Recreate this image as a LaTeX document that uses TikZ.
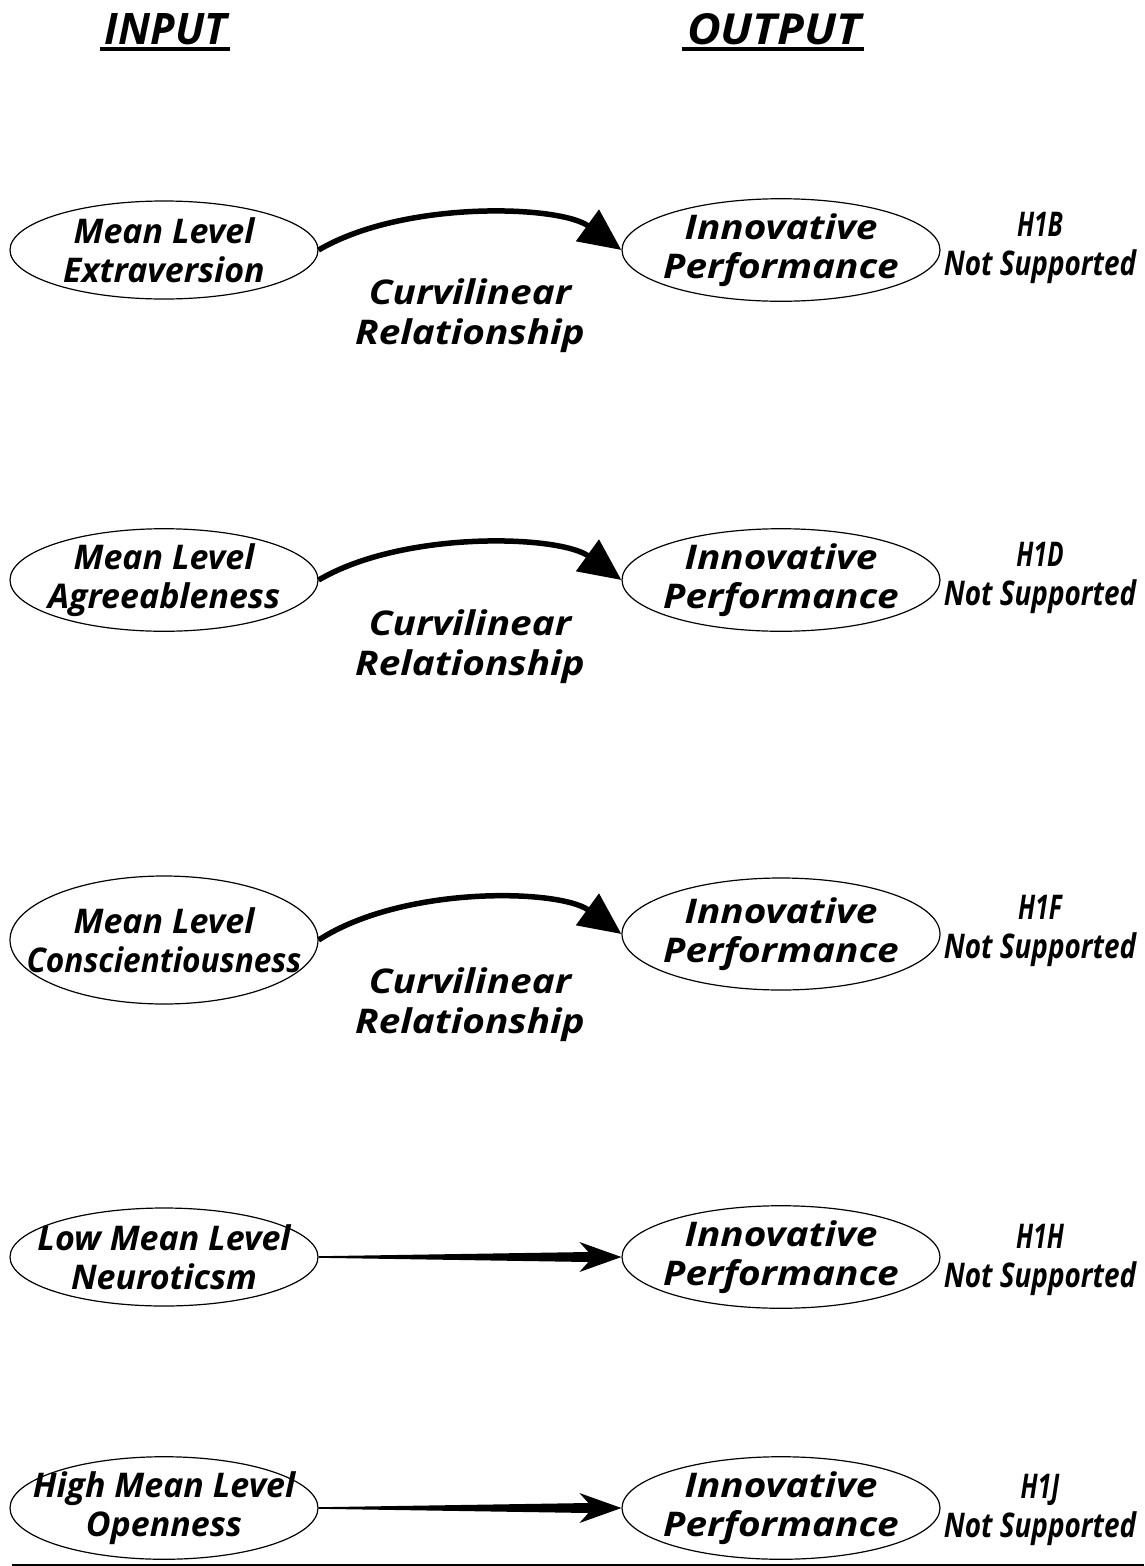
\documentclass[tikz,border=0pt]{standalone}
\usepackage{fontspec}
\setmainfont{Open Sans}
\newfontfamily\widefont{Open Sans}[FakeStretch=1.14]
\newfontfamily\snugfont{Open Sans}[FakeStretch=0.93]
\newfontfamily\narrowfont{Open Sans}[FakeStretch=0.82]
\newfontfamily\tightfont{Open Sans}[FakeStretch=0.72]
\usetikzlibrary{shapes.geometric,arrows.meta,calc}

% tapered straight arrow between two named nodes
\newcommand{\taperarrow}[2]{%
  \fill ($(#1.east)+(0,-0.8)$) -- ($(#2.west)+(-33,-5)$) -- ($(#2.west)+(-42,-15)$)
     -- (#2.west) -- ($(#2.west)+(-42,15)$) -- ($(#2.west)+(-33,5)$)
     -- ($(#1.east)+(0,0.8)$) -- cycle;}
% hypothesis label: name, then verdict
\newcommand{\hyp}[1]{{\tightfont #1}\\{\narrowfont Not Supported}}

\begin{document}
\begin{tikzpicture}[x=1pt,y=-1pt,
  txt/.style={font=\fontsize{34}{38.5}\selectfont\bfseries\itshape, align=center, inner sep=0pt},
  oval/.style={txt, draw, ellipse, line width=1.2pt, inner xsep=-60pt, inner ysep=0pt,
     minimum width=308pt, minimum height=98pt},
  outoval/.style={oval, minimum width=318pt, font=\fontsize{34}{38.5}\selectfont\bfseries\itshape\widefont},
  rel/.style={line width=5.5pt, -{Triangle[length=42pt,width=38pt]}},
  curv/.style={txt, font=\fontsize{34}{40}\selectfont\bfseries\itshape\widefont},
  head/.style={inner sep=0pt}]
\useasboundingbox (0,0) rectangle (1144,1566);

% column headings
\node[head] (in) at (166,29) {\resizebox{122pt}{31pt}{\bfseries\itshape INPUT}};
\node[head] (out) at (774,29) {\resizebox{174pt}{31pt}{\bfseries\itshape OUTPUT}};
\draw[line width=3.5pt] ($(in.south west)+(-5,4)$) -- ($(in.south east)+(3,4)$);
\draw[line width=3.5pt] ($(out.south west)+(-5,4)$) -- ($(out.south east)+(3,4)$);

% row 1
\node[oval] (L1) at (164,250) {Mean Level\\Extraversion};
\node[outoval] (R1) at (781,250) {Innovative\\Performance};
\node[txt] (H1) at (1040,248) {\hyp{H1B}};
\draw[rel] (L1.east) .. controls +(85,-50) and +(-62,-45) .. (R1.west);
\node[curv] (C1) at (470,316) {Curvilinear\\Relationship};

% row 2
\node[oval] (L2) at (164,580) {Mean Level\\Agreeableness};
\node[outoval] (R2) at (781,580) {Innovative\\Performance};
\node[txt] (H2) at (1040,578) {\hyp{H1D}};
\draw[rel] (L2.east) .. controls +(85,-50) and +(-62,-45) .. (R2.west);
\node[curv] (C2) at (470,647) {Curvilinear\\Relationship};

% row 3
\node[oval, minimum height=128pt] (L3) at (164,940) {Mean Level\\{\snugfont Conscientiousness}};
\node[outoval, minimum height=112pt] (R3) at (781,934) {Innovative\\Performance};
\node[txt] (H3) at (1040,931) {\hyp{H1F}};
\draw[rel] (L3.east) .. controls +(85,-55) and +(-62,-45) .. (R3.west);
\node[curv] (C3) at (470,1005) {Curvilinear\\Relationship};

% row 4
\node[oval] (L4) at (164,1257) {Low Mean Level\\Neuroticsm};
\node[outoval] (R4) at (781,1257) {Innovative\\Performance};
\node[txt] (H4) at (1040,1260) {\hyp{H1H}};
\taperarrow{L4}{R4}

% row 5
\node[oval] (L5) at (164,1508) {High Mean Level\\Openness};
\node[outoval] (R5) at (781,1508) {Innovative\\Performance};
\node[txt] (H5) at (1040,1510) {\hyp{H1J}};
\taperarrow{L5}{R5}

% rule along the foot
\coordinate (ruleL) at (12,1564.5);
\coordinate (ruleR) at (1144,1564.5);
\draw[line width=2pt] (ruleL) -- (ruleR);
\end{tikzpicture}
\end{document}
